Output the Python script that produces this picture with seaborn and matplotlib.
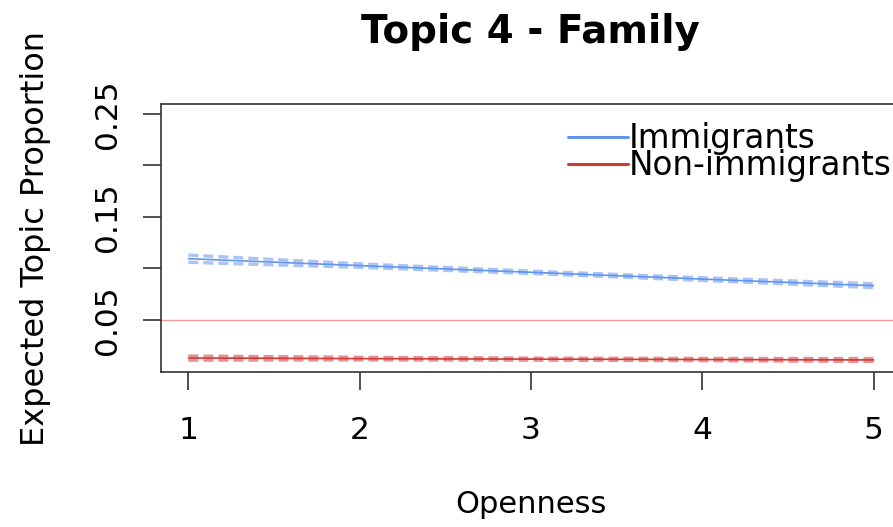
import numpy as np
import pandas as pd
import matplotlib
matplotlib.use("Agg")
import matplotlib.pyplot as plt
import seaborn as sns
from matplotlib.lines import Line2D

# ---- data ----
openness = [1, 2, 3, 4, 5]
imm_mean = [0.1095, 0.1028, 0.0963, 0.0897, 0.0833]
imm_upper = [0.1130, 0.1045, 0.0975, 0.0910, 0.0852]
imm_lower = [0.1060, 0.1011, 0.0951, 0.0884, 0.0814]
non_mean = [0.0131, 0.0125, 0.0120, 0.0116, 0.0112]
non_upper = [0.0150, 0.0138, 0.0130, 0.0127, 0.0126]
non_lower = [0.0110, 0.0112, 0.0110, 0.0105, 0.0098]
groups = ["Immigrants", "Non-immigrants"]
ref_line = 0.05
y_ticks = [0.05, 0.10, 0.15, 0.20, 0.25]
y_ticklabels = ["0.05", "", "0.15", "", "0.25"]
x_ticks = [1, 2, 3, 4, 5]

blue = "#6495ED"
red = "#D03A3A"

sns.set_theme(style="white")
plt.rcParams["font.family"] = ["DejaVu Sans"]
plt.rcParams["text.color"] = "black"

fig = plt.figure(figsize=(8.93, 5.27), dpi=100)
ax = fig.add_axes([161 / 893, 1 - 372 / 527, (901 - 161) / 893, (372 - 104) / 527])

df_mean = pd.DataFrame({
    "x": openness * 2,
    "y": imm_mean + non_mean,
    "group": [groups[0]] * 5 + [groups[1]] * 5,
})
sns.lineplot(data=df_mean, x="x", y="y", hue="group",
             palette={groups[0]: blue, groups[1]: red},
             lw=1.2, ax=ax, legend=False)

for vals, col in [(imm_upper, blue), (imm_lower, blue), (non_upper, red), (non_lower, red)]:
    d = pd.DataFrame({"x": openness, "y": vals})
    sns.lineplot(data=d, x="x", y="y", color=col, lw=2.4, alpha=0.55,
                 dashes=False, ax=ax)
    ax.lines[-1].set_dashes((3.0, 1.5))

ax.axhline(ref_line, color="#EE9A9A", lw=1.0, zorder=0)

ax.set_xlim(0.84, 5.16)
ax.set_ylim(-0.0005, 0.2597)

ax.set_yticks(y_ticks)
ax.set_yticklabels(y_ticklabels, rotation=90, va="center", fontsize=22.5)
ax.set_xticks(x_ticks)
ax.set_xticklabels([str(v) for v in x_ticks], fontsize=22.5)
ax.tick_params(axis="both", direction="out", length=13, width=1.2, color="#333333",
               left=True, bottom=True, labelcolor="black")
ax.tick_params(axis="x", pad=19)
ax.tick_params(axis="y", pad=15)

for s in ax.spines.values():
    s.set_color("#333333")
    s.set_linewidth(1.2)

ax.set_xlabel("Openness", fontsize=22, labelpad=32, color="black")
ax.set_ylabel("Expected Topic Proportion", fontsize=23, labelpad=30, color="black")
ax.set_title("Topic 4 - Family", fontsize=28, fontweight="bold", pad=44,
             x=(530 - 161) / (901 - 161), color="black")

handles = [Line2D([], [], color=blue, lw=2.2), Line2D([], [], color=red, lw=2.2)]
leg = ax.legend(handles, groups, loc="upper left",
                bbox_to_anchor=(568 / 893, 1 - 122 / 527), bbox_transform=fig.transFigure,
                frameon=False, fontsize=23.5, handlelength=1.85, handletextpad=0.0,
                labelspacing=-0.17, borderpad=0, borderaxespad=0)
for t in leg.get_texts():
    t.set_color("black")

fig.savefig("out.png", dpi=100)
